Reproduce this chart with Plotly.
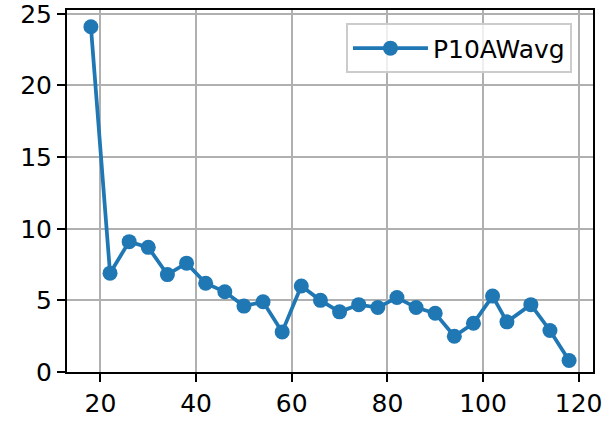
import plotly.graph_objects as go

series_name = "P10AWavg"
x_vals = [18, 22, 26, 30, 34, 38, 42, 46, 50, 54, 58, 62, 66, 70, 74, 78, 82, 86, 90, 94, 98, 102, 105, 110, 114, 118]
y_vals = [24.1, 6.9, 9.1, 8.7, 6.8, 7.6, 6.2, 5.6, 4.6, 4.9, 2.8, 6.0, 5.0, 4.2, 4.7, 4.5, 5.2, 4.5, 4.1, 2.5, 3.4, 5.3, 3.5, 4.7, 2.9, 0.8]
x_tick_vals = [20, 40, 60, 80, 100, 120]
y_tick_vals = [0, 5, 10, 15, 20, 25]

color = "#1f77b4"
font = dict(family="DejaVu Sans", size=25, color="black")

fig = go.Figure()
fig.add_trace(go.Scatter(
    x=x_vals, y=y_vals, mode="lines+markers", name=series_name,
    line=dict(color=color, width=3.75),
    marker=dict(color=color, size=15),
))

axis_common = dict(
    showline=True, linecolor="black", linewidth=2, mirror=True,
    ticks="outside", ticklen=8, tickwidth=2, tickcolor="black",
    showgrid=True, gridcolor="#b0b0b0", gridwidth=2,
    zeroline=False, tickfont=font, automargin=False,
    ticklabeloverflow="allow",
)
fig.update_xaxes(range=[13, 123], tickvals=x_tick_vals, **axis_common)
fig.update_yaxes(range=[0, 25.27], tickvals=y_tick_vals, **axis_common)

fig.update_layout(
    width=612, height=425,
    margin=dict(l=67, r=19, t=10, b=53),
    plot_bgcolor="white", paper_bgcolor="white",
    font=font,
    showlegend=True,
    legend=dict(
        x=0.96, y=0.963, xanchor="right", yanchor="top",
        bgcolor="rgba(255,255,255,0.8)", bordercolor="#cccccc", borderwidth=2,
        font=font, itemwidth=75,
    ),
)

fig.write_html("out.html", config={"displayModeBar": False},
               post_script="document.body.style.margin='0';")
